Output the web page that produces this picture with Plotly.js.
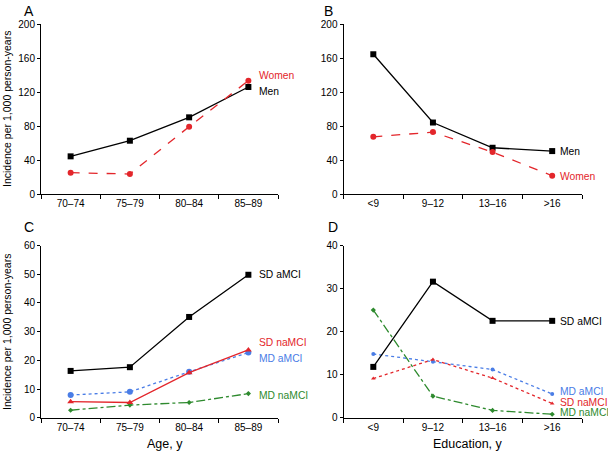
<!DOCTYPE html>
<html>
<head>
<meta charset="utf-8">
<script src="https://cdn.plot.ly/plotly-3.0.1.min.js"></script>
<style>html,body{margin:0;padding:0;background:#fff;}#chart{width:608px;height:451px;}</style>
</head>
<body>
<div id="chart"></div>
<script>
// ---- data ----
const ageGroups = ["70–74", "75–79", "80–84", "85–89"];
const eduGroups = ["<9", "9–12", "13–16", ">16"];

const ageMen = [44.3, 62.7, 90.2, 125.9];
const ageWomen = [25.1, 23.5, 79.2, 133.3];
const eduMen = [164.4, 84.1, 54.4, 50.5];
const eduWomen = [67.3, 72.8, 49.3, 21.5];

const ageSDaMCI = [16.3, 17.6, 35.1, 49.8];
const ageSDnaMCI = [5.6, 5.3, 15.7, 23.6];
const ageMDaMCI = [7.9, 9.0, 16.0, 22.7];
const ageMDnaMCI = [2.6, 4.4, 5.3, 8.4];

const eduSDaMCI = [11.8, 31.6, 22.5, 22.5];
const eduMDaMCI = [14.8, 13.0, 11.2, 5.5];
const eduSDnaMCI = [9.1, 13.5, 9.2, 3.3];
const eduMDnaMCI = [25.0, 5.0, 1.7, 0.8];

const yTitle = "Incidence per 1,000 person-years";

// ---- styles ----
const BLACK = "#000000", RED = "#e3262b", BLUE = "#4a7de6", GREEN = "#2e8a2e";
const W = 608, H = 451;
const px = x => x / W;
const py = y => 1 - y / H;

function tr(x, y, xa, ya, color, dash, sym, size, name) {
  return {x: x, y: y, xaxis: xa, yaxis: ya, type: "scatter", mode: "lines+markers", name: name,
    line: {color: color, width: 1.3, dash: dash},
    marker: {color: color, symbol: sym, size: size}, showlegend: false, hoverinfo: "skip", cliponaxis: false};
}

const data = [
  tr(ageGroups, ageMen, "x", "y", BLACK, "solid", "square", 6, "Men"),
  tr(ageGroups, ageWomen, "x", "y", RED, "dash", "circle", 6, "Women"),
  tr(eduGroups, eduMen, "x2", "y2", BLACK, "solid", "square", 6, "Men"),
  tr(eduGroups, eduWomen, "x2", "y2", RED, "dash", "circle", 6, "Women"),
  tr(ageGroups, ageMDnaMCI, "x3", "y3", GREEN, "dashdot", "diamond", 4, "MD naMCI"),
  tr(ageGroups, ageMDaMCI, "x3", "y3", BLUE, "dot", "circle", 6, "MD aMCI"),
  tr(ageGroups, ageSDnaMCI, "x3", "y3", RED, "solid", "triangle-up", 6, "SD naMCI"),
  tr(ageGroups, ageSDaMCI, "x3", "y3", BLACK, "solid", "square", 6, "SD aMCI"),
  tr(eduGroups, eduMDnaMCI, "x4", "y4", GREEN, "dashdot", "diamond", 4, "MD naMCI"),
  tr(eduGroups, eduMDaMCI, "x4", "y4", BLUE, "dot", "circle", 4, "MD aMCI"),
  tr(eduGroups, eduSDnaMCI, "x4", "y4", RED, "dot", "triangle-up", 4, "SD naMCI"),
  tr(eduGroups, eduSDaMCI, "x4", "y4", BLACK, "solid", "square", 6, "SD aMCI")
];

const tickFont = {family: "Liberation Sans, Arial, sans-serif", size: 10, color: "#000"};
function xaxis(dom, anchor) {
  return {domain: dom, anchor: anchor, type: "category", range: [-0.5, 3.5],
    showline: true, linecolor: "#000", linewidth: 1, ticks: "outside", ticklen: 4, tickwidth: 1,
    tickcolor: "#000", tickson: "boundaries", showgrid: false, zeroline: false, tickfont: tickFont, fixedrange: true};
}
function yaxis(dom, anchor, max, dtick) {
  return {domain: dom, anchor: anchor, range: [0, max], dtick: dtick, tick0: 0,
    showline: true, linecolor: "#000", linewidth: 1, ticks: "outside", ticklen: 3, tickwidth: 1,
    tickcolor: "#000", showgrid: false, zeroline: false, tickfont: tickFont, fixedrange: true};
}

const xL = [px(41), px(278)], xR = [px(343.5), px(582)];
const yT = [py(194), py(24)], yB = [py(417.7), py(245.5)];

function ann(text, x, y, color, size, opts) {
  return Object.assign({text: text, x: px(x), y: py(y), xref: "paper", yref: "paper",
    showarrow: false, xanchor: "left", yanchor: "middle",
    font: {family: "Liberation Sans, Arial, sans-serif", size: size, color: color}}, opts || {});
}

const LBL = 10.3;
const annotations = [
  ann("A", 22, 10.5, BLACK, 14),
  ann("B", 322, 10.5, BLACK, 14),
  ann("C", 22, 226.5, BLACK, 14),
  ann("D", 326, 226.5, BLACK, 14),
  ann(yTitle, 7, 109, BLACK, 10.5, {textangle: -90, xanchor: "center"}),
  ann(yTitle, 7, 332, BLACK, 10.5, {textangle: -90, xanchor: "center"}),
  ann("Age, y", 165, 444, BLACK, 12.5, {xanchor: "center"}),
  ann("Education, y", 468, 444, BLACK, 12.5, {xanchor: "center"}),
  ann("Women", 257, 76, RED, LBL),
  ann("Men", 257, 91.5, BLACK, LBL),
  ann("Men", 558, 151, BLACK, LBL),
  ann("Women", 558, 176, RED, LBL),
  ann("SD aMCI", 257, 274, BLACK, LBL),
  ann("SD naMCI", 257, 342.5, RED, LBL),
  ann("MD aMCI", 257, 358, BLUE, LBL),
  ann("MD naMCI", 257, 395, GREEN, LBL),
  ann("SD aMCI", 558, 321, BLACK, LBL),
  ann("MD aMCI", 558, 391, BLUE, LBL),
  ann("SD naMCI", 558, 402, RED, LBL),
  ann("MD naMCI", 558, 412.5, GREEN, LBL)
];

const layout = {
  width: W, height: H,
  margin: {l: 0, r: 0, t: 0, b: 0, pad: 0},
  paper_bgcolor: "#fff", plot_bgcolor: "#fff",
  font: {family: "Liberation Sans, Arial, sans-serif", color: "#000"},
  xaxis: xaxis(xL, "y"), yaxis: yaxis(yT, "x", 200, 40),
  xaxis2: xaxis(xR, "y2"), yaxis2: yaxis(yT, "x2", 200, 40),
  xaxis3: xaxis(xL, "y3"), yaxis3: yaxis(yB, "x3", 60, 10),
  xaxis4: xaxis(xR, "y4"), yaxis4: yaxis(yB, "x4", 40, 10),
  annotations: annotations,
  showlegend: false
};

Plotly.newPlot("chart", data, layout, {displayModeBar: false, staticPlot: true});
</script>
</body>
</html>
